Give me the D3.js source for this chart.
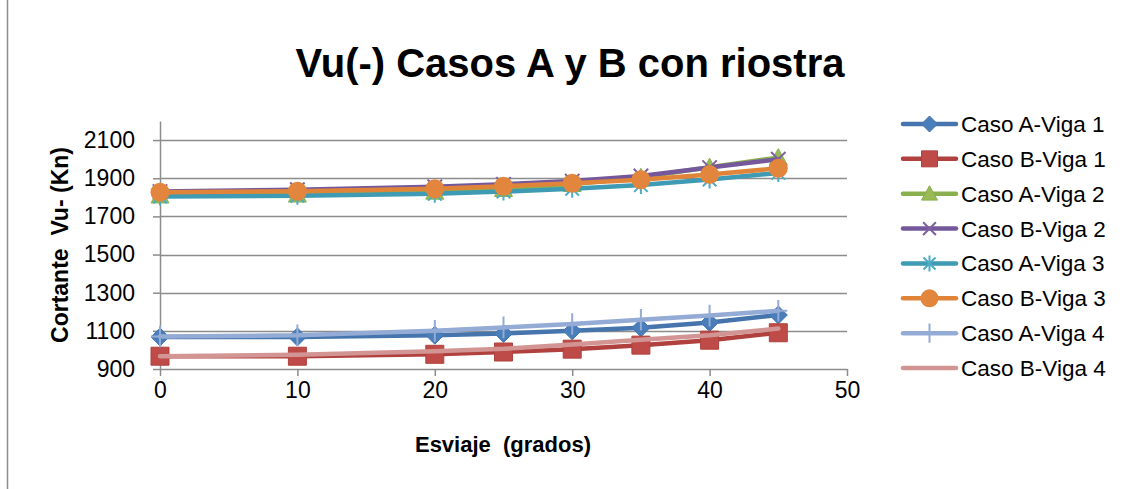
<!DOCTYPE html>
<html><head><meta charset="utf-8">
<script src="https://cdn.jsdelivr.net/npm/d3@7"></script>
<style>
html,body{margin:0;padding:0;background:#fff;}
svg{display:block;font-family:"Liberation Sans",Arial,sans-serif;}
</style></head>
<body>
<svg id="chart" width="1129" height="489"></svg>
<script>
const grados = [0, 10, 20, 25, 30, 35, 40, 45];
const casoAViga1 = [1068, 1068, 1077, 1086, 1100, 1116, 1144, 1183];
const casoBViga1 = [967, 967, 977, 989, 1004, 1025, 1051, 1090];
const casoAViga2 = [1808, 1813, 1828, 1842, 1868, 1905, 1958, 2008];
const casoBViga2 = [1830, 1840, 1855, 1868, 1885, 1912, 1956, 2000];
const casoAViga3 = [1804, 1808, 1818, 1830, 1845, 1864, 1893, 1928];
const casoBViga3 = [1827, 1832, 1845, 1858, 1874, 1892, 1919, 1952];
const casoAViga4 = [1070, 1077, 1100, 1118, 1136, 1158, 1180, 1205];
const casoBViga4 = [967, 975, 993, 1006, 1028, 1053, 1077, 1112];
const seriesNames = ["Caso A-Viga 1","Caso B-Viga 1","Caso A-Viga 2","Caso B-Viga 2","Caso A-Viga 3","Caso B-Viga 3","Caso A-Viga 4","Caso B-Viga 4"];
const yTicks = [900, 1100, 1300, 1500, 1700, 1900, 2100];
const xTicks = [0, 10, 20, 30, 40, 50];
const titleText = "Vu(-) Casos A y B con riostra";
const xTitle = "Esviaje  (grados)";
const yTitle = "Cortante  Vu- (Kn)";

const styles = [
  {line:"#4675AE", fill:"#4A7EBB", marker:"diamond"},
  {line:"#B0413E", fill:"#BE4B48", marker:"square"},
  {line:"#8AB04E", fill:"#98B954", marker:"triangle"},
  {line:"#74589B", fill:"#7D60A0", marker:"x"},
  {line:"#3F9AB3", fill:"#4BACC6", marker:"star"},
  {line:"#E0843A", fill:"#E2863E", marker:"circle"},
  {line:"#93ABD5", fill:"#93ABD5", marker:"plus"},
  {line:"#D39594", fill:"#D39594", marker:"none"}
];
const seriesValues = [casoAViga1, casoBViga1, casoAViga2, casoBViga2, casoAViga3, casoBViga3, casoAViga4, casoBViga4];

const svg = d3.select("#chart");
const x = d3.scaleLinear().domain([0, 50]).range([160, 847]);
const y = d3.scaleLinear().domain([900, 2200]).range([369, 121]);
const grid = "#8C8C8C";

// chart area border (left edge visible)
svg.append("line").attr("x1", 7.5).attr("x2", 7.5).attr("y1", 0).attr("y2", 489)
  .attr("stroke", "#8C8C8C").attr("stroke-width", 1.5);

// title
svg.append("text").attr("x", 570).attr("y", 77).attr("text-anchor", "middle")
  .attr("font-size", 40).attr("font-weight", "bold").attr("fill", "#000").text(titleText);

// gridlines
svg.append("g").selectAll("line").data(yTicks.filter(d => d > 900)).join("line")
  .attr("x1", x(0)).attr("x2", x(50)).attr("y1", d => Math.round(y(d)) + 0.5).attr("y2", d => Math.round(y(d)) + 0.5)
  .attr("stroke", grid).attr("stroke-width", 1.5);

// y axis
const yAxis = d3.axisLeft(y).tickValues(yTicks).tickFormat(d3.format("d")).tickSize(7).tickSizeOuter(0).tickPadding(18);
const gy = svg.append("g").attr("transform", `translate(${x(0)},0)`).call(yAxis);
gy.select(".domain").attr("stroke", grid).attr("stroke-width", 1.5);
gy.selectAll(".tick line").attr("stroke", grid).attr("stroke-width", 1.5);
gy.selectAll(".tick text").attr("font-size", 23).attr("font-family", "Liberation Sans, Arial, sans-serif").attr("fill", "#000");

// x axis
const xAxis = d3.axisBottom(x).tickValues(xTicks).tickFormat(d3.format("d")).tickSize(7).tickSizeOuter(0).tickPadding(6);
const gx = svg.append("g").attr("transform", `translate(0,${y(900)})`).call(xAxis);
gx.select(".domain").attr("stroke", grid).attr("stroke-width", 1.5);
gx.selectAll(".tick line").attr("stroke", grid).attr("stroke-width", 1.5);
gx.selectAll(".tick text").attr("font-size", 23).attr("font-family", "Liberation Sans, Arial, sans-serif").attr("fill", "#000");

// axis titles
svg.append("text").attr("x", 503).attr("y", 452).attr("text-anchor", "middle")
  .attr("font-size", 22).attr("font-weight", "bold").style("white-space", "pre").text(xTitle);
svg.append("text").attr("transform", "translate(68,245) rotate(-90)").attr("text-anchor", "middle")
  .attr("font-size", 23).attr("font-weight", "bold").style("white-space", "pre").text(yTitle);

function markerPath(type, s) {
  switch (type) {
    case "diamond": return `M0,${-s}L${s},0L0,${s}L${-s},0Z`;
    case "square": return `M${-s},${-s}h${2*s}v${2*s}h${-2*s}Z`;
    case "triangle": return `M0,${-s}L${s},${s*0.8}L${-s},${s*0.8}Z`;
    case "x": { const a = s*0.8; return `M${-a},${-a}L${a},${a}M${-a},${a}L${a},${-a}`; }
    case "star": { const a = s*0.75; return `M${-a},${-a}L${a},${a}M${-a},${a}L${a},${-a}M0,${-s}L0,${s}`; }
    case "plus": return `M0,${-s*1.2}L0,${s*1.2}M${-s},0L${s},0`;
    default: return "";
  }
}
function drawMarker(g, type, st, cx, cy, s) {
  if (type === "none") return;
  if (type === "circle") {
    g.append("circle").attr("cx", cx).attr("cy", cy).attr("r", s).attr("fill", st.fill);
  } else if (type === "x" || type === "star" || type === "plus") {
    g.append("path").attr("d", markerPath(type, s)).attr("transform", `translate(${cx},${cy})`)
      .attr("fill", "none").attr("stroke", st.fill).attr("stroke-width", 2);
  } else {
    g.append("path").attr("d", markerPath(type, s)).attr("transform", `translate(${cx},${cy})`)
      .attr("fill", st.fill).attr("stroke", st.line).attr("stroke-width", 1);
  }
}

const line = d3.line().x((d, i) => x(grados[i])).y(d => y(d));
const plot = svg.append("g");
seriesValues.forEach((vals, k) => {
  const st = styles[k];
  const g = plot.append("g");
  g.append("path").datum(vals).attr("d", line).attr("fill", "none")
    .attr("stroke", st.line).attr("stroke-width", 4.5).attr("stroke-linejoin", "round").attr("stroke-linecap", "round");
  vals.forEach((v, i) => drawMarker(g, st.marker, st, x(grados[i]), y(v), st.marker === "circle" ? 9.5 : 9));
});

// legend
const legend = svg.append("g");
const legY = d3.scaleLinear().domain([0, 7]).range([124, 368]);
seriesNames.forEach((name, k) => {
  const st = styles[k];
  const cy = legY(k);
  const g = legend.append("g");
  g.append("line").attr("x1", 903).attr("x2", 956).attr("y1", cy).attr("y2", cy)
    .attr("stroke", st.line).attr("stroke-width", 4.5).attr("stroke-linecap", "round");
  drawMarker(g, st.marker, st, 929.5, cy, st.marker === "circle" ? 9 : 8);
  g.append("text").attr("x", 961).attr("y", cy + 8).attr("font-size", 22.5).attr("fill", "#000").text(name);
});
</script>
</body></html>
